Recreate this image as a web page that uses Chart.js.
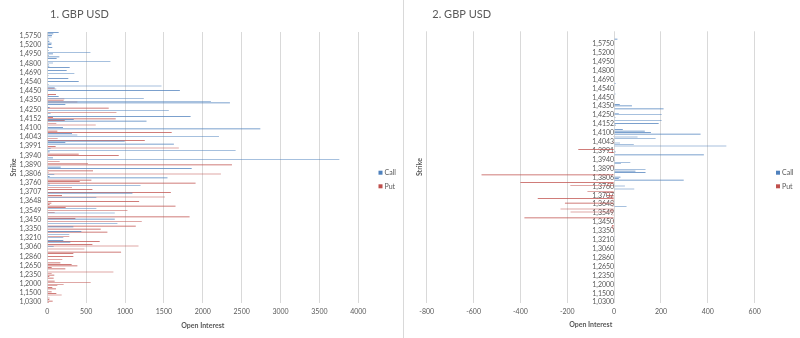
<!DOCTYPE html>
<html>
<head>
<meta charset="utf-8">
<title>GBP USD - Open Interest</title>
<script src="https://cdn.jsdelivr.net/npm/chart.js@4/dist/chart.umd.min.js"></script>
<style>
    html, body { margin: 0; padding: 0; background: #fff; }
    #wrap { position: relative; width: 800px; height: 338px; overflow: hidden; }
    canvas { position: absolute; top: 0; }
    #chart-left { left: 0; }
    #chart-right { left: 400px; }
    #divider { position: absolute; left: 403px; top: 0; width: 1px; height: 338px; background: #d9d9d9; }
</style>
</head>
<body>
<div id="wrap">
    <canvas id="chart-left" width="400" height="338"></canvas>
    <div id="divider"></div>
    <canvas id="chart-right" width="400" height="338"></canvas>
</div>
<script>
(function () {
    "use strict";

    // ======================================================================
    // Data
    //
    // strikes that get a label (every 6th category, top to bottom)
    const strikeLabels = [
        '1,5750', '1,5200', '1,4950', '1,4800', '1,4690', '1,4540', '1,4450', '1,4350',
        '1,4250', '1,4152', '1,4100', '1,4043', '1,3991', '1,3940', '1,3890', '1,3806',
        '1,3760', '1,3707', '1,3648', '1,3549', '1,3450', '1,3350', '1,3210', '1,3060',
        '1,2860', '1,2650', '1,2350', '1,2000', '1,1500', '1,0300'
    ];
    const seriesNames = ['Call', 'Put'];

    // panel 1: open interest per strike, top to bottom
    const callOI1 = [
        146, 77, 60, 56, 17, 26, 26, 56, 52, 21, 64, 9, 21, 555, 73, 17, 155, 120, 0, 812,
        73, 20, 25, 288, 0, 249, 0, 348, 15, 0, 270, 0, 404, 0, 15, 1469, 95, 116, 1705, 0,
        0, 0, 146, 1241, 0, 2105, 2349, 232, 0, 30, 0, 1563, 0, 43, 0, 1843, 0, 340, 1276, 0,
        0, 0, 202, 2740, 0, 0, 318, 386, 2208, 0, 0, 996, 232, 1628, 0, 0, 43, 2422, 30, 0,
        0, 0, 73, 3756, 0, 0, 0, 0, 172, 1857, 0, 0, 0, 90, 30, 1546, 0, 0, 0, 30,
        1199, 0, 0, 0, 0, 1095, 0, 0, 631, 0, 0, 0, 0, 0, 0, 631, 0, 0, 868, 0,
        0, 0, 868, 0, 0, 902, 0, 335, 0, 0, 438, 0, 283, 0, 206, 0, 206, 296, 0, 0,
        82, 0, 0, 0, 0, 0, 0, 0, 0, 0, 0, 0, 0, 0, 0, 0, 0, 0, 0, 0,
        0, 0, 0, 0, 0, 0, 0, 0, 0, 0, 0, 0, 0, 0, 0, 0, 0
    ];
    const putOI1 = [
        0, 0, 0, 0, 0, 0, 0, 0, 0, 0, 0, 0, 0, 0, 0, 0, 0, 0, 0, 0,
        0, 0, 0, 0, 0, 0, 0, 0, 0, 0, 0, 0, 0, 0, 0, 0, 95, 0, 0, 0,
        112, 17, 0, 219, 210, 387, 0, 0, 0, 790, 0, 0, 889, 0, 0, 73, 880, 224, 0, 116,
        623, 0, 0, 0, 129, 1600, 0, 0, 0, 133, 1254, 0, 0, 0, 107, 1692, 0, 0, 0, 404,
        919, 0, 0, 0, 159, 524, 2375, 0, 0, 0, 588, 17, 2233, 0, 0, 0, 567, 417, 1907, 0,
        0, 318, 580, 0, 1589, 0, 189, 1512, 0, 0, 1181, 52, 30, 1649, 236, 0, 1031, 95, 0, 0,
        1830, 361, 0, 1215, 0, 0, 1138, 0, 687, 0, 773, 0, 0, 283, 0, 0, 674, 0, 580, 1173,
        0, 477, 0, 949, 335, 0, 335, 0, 193, 0, 168, 313, 387, 56, 232, 0, 850, 56, 90, 26,
        82, 0, 95, 558, 210, 129, 64, 112, 0, 56, 116, 185, 0, 30, 26, 69, 17
    ];

    // panel 2: change in open interest, puts below zero
    const callOI2 = [
        0, 0, 0, 0, 0, 14, 0, 0, 0, 0, 0, 0, 0, 0, 0, 0, 0, 0, 0, 0,
        0, 0, 0, 0, 0, 0, 0, 0, 0, 0, 0, 0, 0, 0, 0, 6, 0, 0, 0, 0,
        0, 0, 6, 0, 0, 0, 0, 0, 0, 24, 76, 0, 211, 0, 0, 20, 203, 0, 6, 0,
        203, 0, 190, 7, 0, 0, 37, 131, 157, 369, 0, 100, 177, 0, 0, 25, 84, 479, 0, 0,
        0, 6, 0, 383, 0, 0, 0, 4, 69, 29, 0, 0, 0, 134, 91, 134, 0, 0, 27, 20,
        297, 0, 0, 0, 46, 0, 86, 0, 0, 0, 0, 0, 0, 0, 0, 0, 0, 0, 53, 0,
        0, 0, 0, 0, 0, 0, 0, 0, 0, 0, 0, 0, 0, 0, 0, 0, 0, 0, 4, 0,
        4, 0, 0, 0, 0, 0, 0, 0, 0, 0, 0, 0, 0, 0, 0, 0, 0, 0, 0, 0,
        0, 0, 0, 0, 0, 0, 0, 0, 0, 0, 0, 0, 0, 0, 0, 0, 0, 0, 0, 0,
        0, 0, 0
    ];
    const putOI2 = [
        0, 0, 0, 0, 0, 0, 0, 0, 0, 0, 0, 0, 0, 0, 0, 0, 0, 0, 0, 0,
        0, 0, 0, 0, 0, 0, 0, 0, 0, 0, 0, 0, 0, 0, 0, 0, 0, 0, 0, 0,
        0, 0, 0, 0, 0, 0, 0, 0, 0, 0, 0, 0, 0, 0, 0, 0, 0, 0, 0, 0,
        0, 0, 0, 0, 0, 0, 0, 0, 0, 0, -4, 0, 0, 0, -6, 0, 0, 0, 0, -153,
        0, -24, 0, 0, 0, 0, 0, 0, 0, 0, -19, -4, 0, 0, 0, 0, -566, 0, 0, 0,
        0, -400, -29, -187, 0, 0, 0, -114, -43, 0, -31, -24, -326, -7, 0, -210, 0, -10, 0, -229,
        -19, -186, 0, -7, 0, -383, 0, -6, 0, 0, -9, -11, -7, 0, 0, 0, 0, 0, 0, 0,
        0, 0, 0, 0, 0, 0, 0, 0, 0, 0, 0, 0, 0, 0, 0, 0, 0, 0, 0, 0,
        0, 0, 0, 0, 0, 0, 0, 0, 0, 0, 0, 0, 0, 0, 0, 0, 0, 0, 0, 0,
        0, 0, 0
    ];

    // ======================================================================
    // Styles
    //
    const
        CALL_COLOR = '#4F81BD',
        PUT_COLOR = '#C0504D',
        GRID_COLOR = '#d9d9d9',
        TEXT_COLOR = '#595959',
        FONT = 'Lato';

    // category list: blank slots between the labelled strikes
    function build_categories(lead, count) {
        let cats = [];
        for (let i = 0; i < count; i++) {
            let k = i - lead;
            cats.push(k >= 0 && k % 6 === 0 ? strikeLabels[k / 6] : '');
        }
        return cats;
    };

    // ======================================================================
    // Titles, axis titles and legend
    //
    const panelText = {
        id: 'panelText',
        afterDraw(chart, args, opts) {
            const ctx = chart.ctx,
                area = chart.chartArea;

            ctx.save();
            ctx.fillStyle = TEXT_COLOR;
            ctx.textBaseline = 'middle';

            ctx.font = `11px ${FONT}`;
            ctx.textAlign = 'left';
            ctx.fillText(opts.title, opts.titleX, 14);

            ctx.font = `bold 7px ${FONT}`;
            ctx.textAlign = 'center';
            ctx.fillText('Open Interest', (area.left + area.right) / 2, opts.xTitleY);

            ctx.save();
            ctx.translate(opts.yTitleX, (area.top + area.bottom) / 2);
            ctx.rotate(-Math.PI / 2);
            ctx.fillText('Strike', 0, 0);
            ctx.restore();

            ctx.font = `7px ${FONT}`;
            ctx.textAlign = 'left';
            chart.data.datasets.forEach((ds, i) => {
                let y = opts.legendY + i * 13.6;
                ctx.fillStyle = ds.backgroundColor;
                ctx.fillRect(opts.legendX, y - 2, 4, 4);
                ctx.fillStyle = TEXT_COLOR;
                ctx.fillText(ds.label, opts.legendX + 6, y);
            });
            ctx.restore();
        }
    };

    function make_chart(canvasId, cfg) {
        const tickFont = { family: FONT, size: 7 };

        return new Chart(document.getElementById(canvasId), {
            type: 'bar',
            data: {
                labels: cfg.labels,
                datasets: [
                    { label: seriesNames[0], data: cfg.call, backgroundColor: CALL_COLOR },
                    { label: seriesNames[1], data: cfg.put, backgroundColor: PUT_COLOR }
                ]
            },
            options: {
                indexAxis: 'y',
                responsive: false,
                animation: false,
                devicePixelRatio: 1,
                layout: { padding: cfg.padding },
                datasets: {
                    bar: { categoryPercentage: 1, barPercentage: 0.85, borderWidth: 0 }
                },
                plugins: {
                    legend: { display: false },
                    tooltip: { enabled: false },
                    panelText: cfg.text
                },
                scales: {
                    x: {
                        min: cfg.min,
                        max: cfg.max,
                        ticks: {
                            stepSize: cfg.step,
                            color: TEXT_COLOR,
                            font: tickFont,
                            padding: 5,
                            callback: v => String(v)
                        },
                        grid: { color: GRID_COLOR, drawTicks: false },
                        border: { display: false },
                        afterFit: s => { s.height = cfg.xHeight; }
                    },
                    y: {
                        position: cfg.yPosition,
                        ticks: { autoSkip: false, color: TEXT_COLOR, font: tickFont, padding: 6 },
                        grid: { display: false, drawTicks: false },
                        border: { display: false },
                        afterFit: s => { s.width = cfg.yWidth; }
                    }
                }
            },
            plugins: [panelText]
        });
    };

    // ======================================================================
    // Charts
    //
    make_chart('chart-left', {
        labels: build_categories(2, callOI1.length),
        call: callOI1,
        put: putOI1,
        min: 0, max: 4000, step: 500,
        padding: { left: 0, right: 41.7, top: 32, bottom: 0 },
        xHeight: 35, yWidth: 47.3, yPosition: 'left',
        text: { title: '1. GBP USD', titleX: 50, xTitleY: 325.7, yTitleX: 13.3, legendX: 378.5, legendY: 172.7 }
    });

    make_chart('chart-right', {
        labels: build_categories(8, callOI2.length),
        call: callOI2,
        put: putOI2,
        min: -800, max: 600, step: 200,
        padding: { left: 26.7, right: 45.3, top: 31.3, bottom: 0 },
        xHeight: 35.1, yWidth: 0, yPosition: { x: 0 },
        text: { title: '2. GBP USD', titleX: 32.3, xTitleY: 324.3, yTitleX: 20, legendX: 376, legendY: 172.7 }
    });
})();
</script>
</body>
</html>
